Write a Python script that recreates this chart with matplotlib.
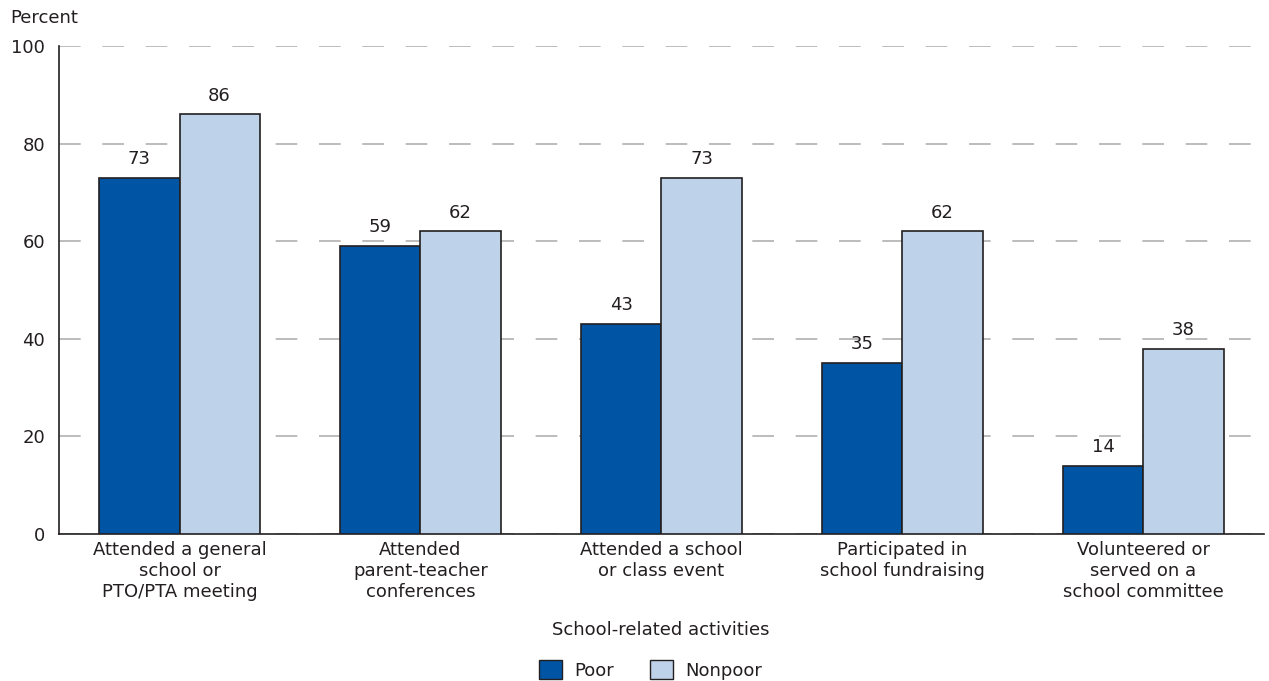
import numpy as np
import matplotlib.pyplot as plt
from matplotlib.patches import Patch

categories = ['Attended a general\nschool or\nPTO/PTA meeting',
              'Attended\nparent-teacher\nconferences',
              'Attended a school\nor class event',
              'Participated in\nschool fundraising',
              'Volunteered or\nserved on a\nschool committee']
poor = [73, 59, 43, 35, 14]
nonpoor = [86, 62, 73, 62, 38]

c_poor = '#0054a4'
c_nonpoor = '#bed3e9'
edge = '#231f20'
txt = '#231f20'

plt.rcParams['font.family'] = ['DejaVu Sans']
fs = 13

fig = plt.figure(figsize=(12.69, 6.81), dpi=100)
ax = fig.add_axes([0.0465, 0.2159, 0.9495, 0.7166])

x = np.arange(len(categories))
w = 0.333
b1 = ax.bar(x - w / 2, poor, w, color=c_poor, edgecolor=edge, linewidth=1.2, zorder=3)
b2 = ax.bar(x + w / 2, nonpoor, w, color=c_nonpoor, edgecolor=edge, linewidth=1.2, zorder=3)

for bars, vals in ((b1, poor), (b2, nonpoor)):
    for r, v in zip(bars, vals):
        ax.text(r.get_x() + r.get_width() / 2, v + 2.0, str(v), ha='center', va='bottom',
                fontsize=fs, color=txt)

ax.set_xlim(-0.5, 4.5)
ax.set_ylim(0, 100)
ax.set_yticks([0, 20, 40, 60, 80, 100])
ax.yaxis.grid(True, color='#b0b0b0', linestyle=(0, (13, 13)), linewidth=1.2, zorder=0)
ax.set_xticks(x)
ax.set_xticklabels(categories, fontsize=fs, color=txt, linespacing=1.2)
ax.tick_params(axis='both', length=0, labelsize=fs, colors=txt)
ax.tick_params(axis='x', pad=5)
ax.tick_params(axis='y', pad=10)
for s in ('top', 'right'):
    ax.spines[s].set_visible(False)
ax.spines['left'].set_color(edge)
ax.spines['bottom'].set_color(edge)
ax.spines['left'].set_linewidth(1.2)
ax.spines['bottom'].set_linewidth(1.2)

fig.text(10 / 1269, 1 - 18 / 681, 'Percent', fontsize=fs, color=txt, va='center', ha='left')
fig.text(661 / 1269, 1 - 630 / 681, 'School-related activities', fontsize=fs, color=txt,
         va='center', ha='center')

handles = [Patch(facecolor=c_poor, edgecolor=edge, label='Poor'),
           Patch(facecolor=c_nonpoor, edgecolor=edge, label='Nonpoor')]
fig.legend(handles=handles, loc='center', bbox_to_anchor=(651 / 1269, 1 - 670 / 681), ncol=2,
           frameon=False, fontsize=fs, handlelength=1.25, handleheight=1.25, columnspacing=2.0,
           handletextpad=0.7, labelcolor=txt)

fig.savefig('out.png', dpi=100)
